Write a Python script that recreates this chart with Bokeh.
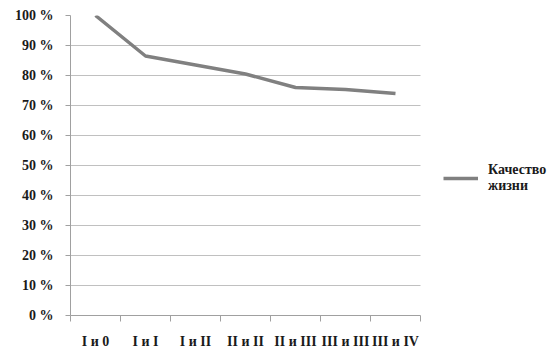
import numpy as np
from bokeh.plotting import figure
from bokeh.models import FixedTicker, Range1d, Legend, LegendItem
from bokeh.embed import file_html
from bokeh.resources import INLINE

categories = ["I и 0", "I и I", "I и II", "II и II", "II и III", "III и III", "III и IV"]
quality = [100, 86.5, 83.5, 80.5, 76.0, 75.3, 74.0]
y_ticks = [0, 10, 20, 30, 40, 50, 60, 70, 80, 90, 100]
series_name = "Качество\nжизни"

n = len(categories)
x = np.arange(n) + 0.5
frame_w = 556 - 70 - 5
x_end = frame_w / 50.0

p = figure(width=556, height=351, output_backend="svg", toolbar_location=None,
           x_range=Range1d(0, x_end), y_range=Range1d(0, 100),
           min_border_left=70, min_border_right=5, min_border_top=15, min_border_bottom=35)
p.outline_line_color = None
p.background_fill_color = "white"
p.border_fill_color = "white"

r = p.line(x, quality, line_color="#808080", line_width=3.5)

font = "'Liberation Serif', 'Times New Roman', 'DejaVu Serif', serif"
p.xaxis.ticker = FixedTicker(ticks=list(x), minor_ticks=list(range(n + 1)))
p.xaxis.major_label_overrides = {float(v): c for v, c in zip(x, categories)}
p.xaxis.bounds = (0, n)
p.xaxis.major_tick_out = 0
p.xaxis.major_tick_in = 0
p.xaxis.minor_tick_out = 6
p.xaxis.minor_tick_in = 0
p.xaxis.minor_tick_line_color = "#a0a0a0"
p.xaxis.axis_line_color = "#a0a0a0"
p.xaxis.major_label_standoff = 12
p.xgrid.visible = False

p.yaxis.ticker = FixedTicker(ticks=y_ticks, minor_ticks=[])
p.yaxis.major_label_overrides = {v: f"{v} %" for v in y_ticks}
p.yaxis.major_tick_out = 5
p.yaxis.major_tick_in = 0
p.yaxis.major_tick_line_color = "#a0a0a0"
p.yaxis.axis_line_color = "#a0a0a0"
p.yaxis.major_label_standoff = 12
p.ygrid.grid_line_color = "#c0c0c0"
p.ygrid.ticker = FixedTicker(ticks=y_ticks)
p.ygrid.cross_bounds = (0, n)

for ax in (p.xaxis, p.yaxis):
    ax.major_label_text_font = font
    ax.major_label_text_font_style = "bold"
    ax.major_label_text_font_size = "14px"
    ax.major_label_text_color = "#1a1a1a"

legend = Legend(items=[LegendItem(label=series_name, renderers=[r])],
                location=(373, 121), glyph_width=35, label_standoff=10,
                label_text_font=font, label_text_font_style="bold",
                label_text_font_size="14px", label_text_color="#1a1a1a",
                label_text_line_height=1.1,
                border_line_color=None, background_fill_alpha=0,
                padding=0, margin=0)
p.add_layout(legend, "center")

open("out.html", "w").write(file_html(p, INLINE))
